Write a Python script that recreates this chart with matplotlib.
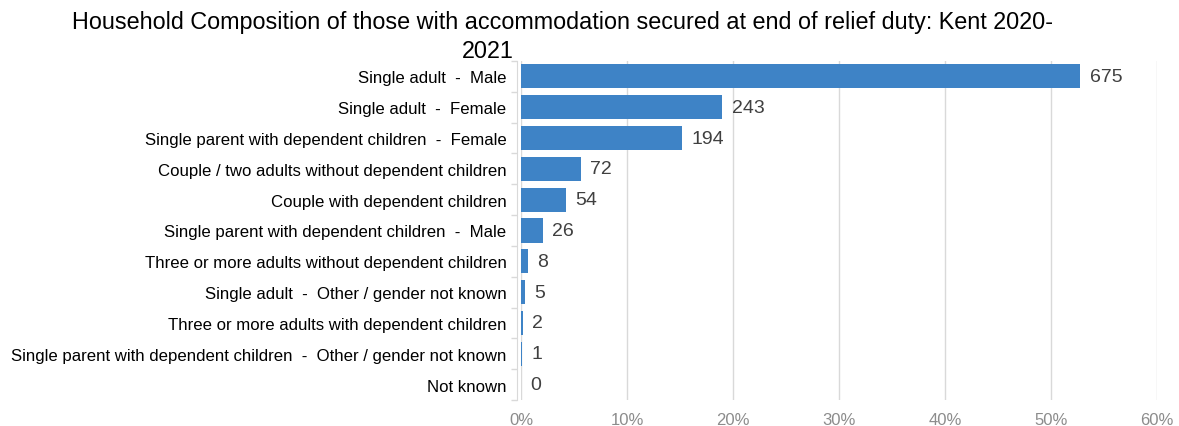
import matplotlib.pyplot as plt
from matplotlib import font_manager
from matplotlib.ticker import PercentFormatter

names = {f.name for f in font_manager.fontManager.ttflist}
family = ["Liberation Sans Narrow"] if "Liberation Sans Narrow" in names else ["Liberation Sans"]
plt.rcParams["font.family"] = family + ["DejaVu Sans"]

categories = [
    "Single adult  -  Male",
    "Single adult  -  Female",
    "Single parent with dependent children  -  Female",
    "Couple / two adults without dependent children",
    "Couple with dependent children",
    "Single parent with dependent children  -  Male",
    "Three or more adults without dependent children",
    "Single adult  -  Other / gender not known",
    "Three or more adults with dependent children",
    "Single parent with dependent children  -  Other / gender not known",
    "Not known",
]
counts = [675, 243, 194, 72, 54, 26, 8, 5, 2, 1, 0]
xticks = [0, 10, 20, 30, 40, 50, 60]

total = sum(counts)
shares = [100 * c / total for c in counts]
ypos = list(range(len(categories)))

fig = plt.figure(figsize=(11.79, 4.27), dpi=100)
ax = fig.add_axes([521 / 1179, 1 - 401 / 427, (1157 - 521) / 1179, (401 - 62) / 427])

ax.barh(ypos, shares, height=0.78, color="#3E83C6", zorder=3)
for y, s, c in zip(ypos, shares, counts):
    ax.text(s + 0.9, y, str(c), va="center", ha="left", fontsize=14, color="#404040")

ax.set_ylim(len(categories) - 0.5, -0.5)
ax.set_xlim(0, 60)
ax.set_yticks(ypos)
ax.set_yticklabels(categories)
ax.tick_params(axis="y", length=0, pad=7.5, labelsize=12.1, labelcolor="black")
# small boundary marks between categories
ax.set_yticks([i + 0.5 for i in range(-1, len(categories))], minor=True)
ax.tick_params(axis="y", which="minor", length=4, color="#d9d9d9", width=1)

ax.set_xticks(xticks)
ax.xaxis.set_major_formatter(PercentFormatter(decimals=0))
ax.tick_params(axis="x", length=0, labelsize=12, labelcolor="#8c8c8c", pad=9)
ax.grid(axis="x", color="#d9d9d9", linewidth=1, zorder=0)

for side in ["top", "right", "bottom"]:
    ax.spines[side].set_visible(False)
ax.spines["left"].set_color("#d9d9d9")
ax.spines["left"].set_position(("outward", 3))

fig.text(562 / 1179, 1 - 23 / 427,
         "Household Composition of those with accommodation secured at end of relief duty: Kent 2020-",
         ha="center", va="center", fontsize=16.8, color="black")
fig.text(488 / 1179, 1 - 51 / 427, "2021", ha="center", va="center", fontsize=16.8, color="black")

fig.savefig("out.png", dpi=100)
